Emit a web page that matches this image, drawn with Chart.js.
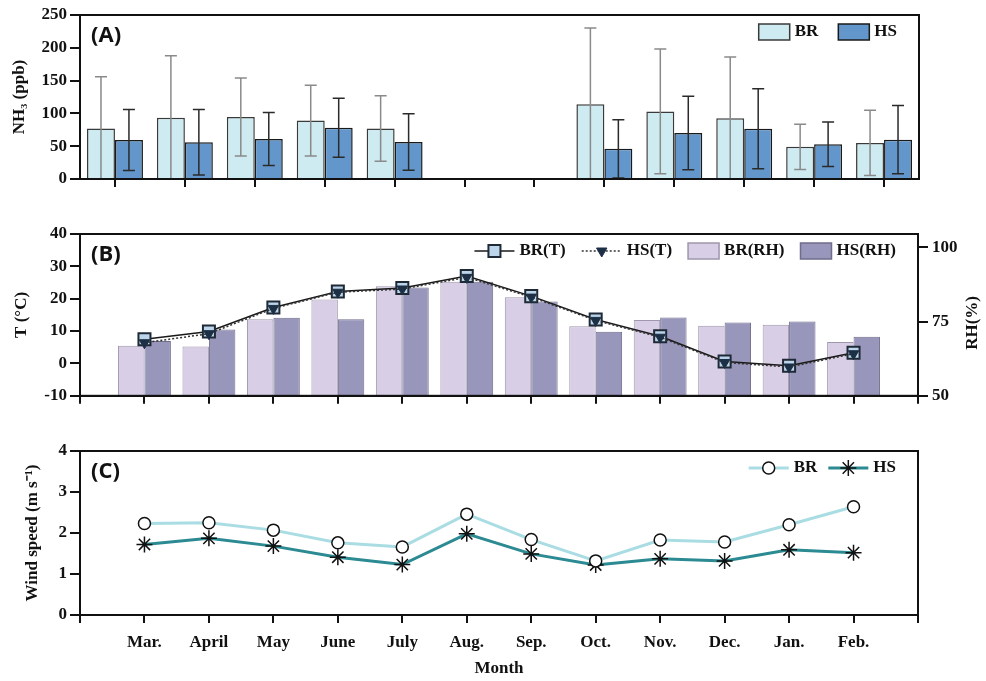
<!DOCTYPE html>
<html>
<head>
<meta charset="utf-8">
<title>NH3, T/RH and wind speed by month</title>
<script src="https://cdn.jsdelivr.net/npm/chart.js@4.4.1/dist/chart.umd.min.js"></script>
<style>
  body { margin: 0; background: #fff; }
  .panel { position: absolute; left: 0; width: 986px; }
</style>
</head>
<body>
<div class="panel" style="top:0;height:200px"><canvas id="chartA"></canvas></div>
<div class="panel" style="top:215px;height:195px"><canvas id="chartB"></canvas></div>
<div class="panel" style="top:430px;height:251px"><canvas id="chartC"></canvas></div>
<script>
// monthly values
const months = ['Mar.', 'April', 'May', 'June', 'July', 'Aug.', 'Sep.', 'Oct.', 'Nov.', 'Dec.', 'Jan.', 'Feb.'];

const nh3BR = [77, 93.5, 94.5, 89, 77, null, null, 114, 103, 92.5, 49, 55];
const nh3BRsd = [79, 94.5, 59.5, 54, 50, null, null, 116, 95, 93.5, 34.5, 49.7];
const nh3HS = [59.5, 56, 61, 78, 56.5, null, null, 46, 70, 76.7, 53, 60];
const nh3HSsd = [46.5, 50, 40.5, 45, 43, null, null, 44.5, 56, 61, 34, 52];

const tempBR = [7.5, 9.9, 17.3, 22.2, 23.3, 27.0, 20.8, 13.6, 8.4, 0.6, -0.7, 3.3];
const tempHS = [6.4, 9.2, 17.0, 22.0, 23.0, 26.6, 20.5, 13.3, 8.1, 0.3, -1.1, 3.0];
const rhBR = [66.9, 66.6, 75.8, 82.4, 86.9, 88.4, 83.2, 73.4, 75.5, 73.6, 73.9, 68.1];
const rhHS = [68.5, 72.3, 76.3, 75.8, 86.5, 88.4, 81.8, 71.6, 76.4, 74.7, 75.0, 69.9];

const windBR = [2.23, 2.25, 2.07, 1.76, 1.66, 2.46, 1.84, 1.32, 1.83, 1.78, 2.2, 2.64];
const windHS = [1.72, 1.87, 1.68, 1.41, 1.23, 1.98, 1.49, 1.22, 1.37, 1.32, 1.59, 1.52];

const nh3Ticks = [0, 50, 100, 150, 200, 250];
const tempTicks = [-10, 0, 10, 20, 30, 40];
const rhTicks = [50, 75, 100];
const windTicks = [0, 1, 2, 3, 4];

// panels B and C have an empty slot at each end of the axis
const padded = arr => [null, ...arr, null];
const wideLabels = ['', ...months, ''];

const serif = "'Liberation Serif', 'Times New Roman', serif";
Chart.defaults.font.family = serif;
Chart.defaults.font.weight = 'bold';
Chart.defaults.font.size = 17;
Chart.defaults.color = '#111';
Chart.defaults.animation = false;

// frame, panel letter and optional right-hand title
const decor = {
    id: 'decor',
    afterDraw(chart, args, opts) {
        const { ctx, chartArea } = chart;
        ctx.save();
        ctx.strokeStyle = '#111';
        ctx.lineWidth = 2;
        ctx.strokeRect(chartArea.left, chartArea.top, chartArea.right - chartArea.left, chartArea.bottom - chartArea.top);
        ctx.fillStyle = '#111';
        ctx.font = "bold 22px 'Open Sans', 'Noto Sans', sans-serif";
        ctx.textBaseline = 'middle';
        ctx.fillText(opts.label, chartArea.left + 11, chartArea.top + 21);
        if (opts.rightTitle) {
            ctx.font = 'bold 17px ' + serif;
            ctx.textAlign = 'center';
            ctx.translate(chartArea.right + 55, (chartArea.top + chartArea.bottom) / 2 + 8);
            ctx.rotate(-Math.PI / 2);
            ctx.fillText(opts.rightTitle, 0, 0);
        }
        ctx.restore();
    }
};

// legend drawn inside the plot, top right
const insideLegend = {
    id: 'insideLegend',
    afterDraw(chart, args, opts) {
        const { ctx, chartArea } = chart;
        const symW = { box: 31, line: 40 };
        ctx.save();
        ctx.font = 'bold 17px ' + serif;
        ctx.textBaseline = 'middle';
        let total = 0;
        opts.items.forEach((it, k) => {
            total += symW[it.kind] + 5 + ctx.measureText(it.text).width + (k ? opts.gap : 0);
        });
        let x = chartArea.right - 22 - total;
        const y = chartArea.top + 17;
        opts.items.forEach((it, k) => {
            if (k) x += opts.gap;
            const ds = chart.data.datasets[it.ds];
            if (it.kind === 'box') {
                ctx.fillStyle = ds.backgroundColor;
                ctx.strokeStyle = ds.borderColor;
                ctx.lineWidth = 1.5;
                ctx.fillRect(x, y - 8, 31, 16);
                ctx.strokeRect(x, y - 8, 31, 16);
            } else {
                ctx.strokeStyle = ds.borderColor;
                ctx.lineWidth = ds.borderWidth;
                ctx.setLineDash(ds.borderDash || []);
                ctx.beginPath();
                ctx.moveTo(x, y);
                ctx.lineTo(x + 40, y);
                ctx.stroke();
                ctx.setLineDash([]);
                ctx.fillStyle = ds.pointBackgroundColor;
                ctx.strokeStyle = ds.pointBorderColor;
                ctx.lineWidth = ds.pointBorderWidth;
                Chart.helpers.drawPoint(ctx, {
                    pointStyle: ds.pointStyle,
                    rotation: ds.pointRotation || 0,
                    radius: ds.pointRadius,
                    borderWidth: ds.pointBorderWidth
                }, x + 20, y);
            }
            x += symW[it.kind] + 5;
            ctx.fillStyle = '#111';
            ctx.fillText(it.text, x, y);
            x += ctx.measureText(it.text).width;
        });
        ctx.restore();
    }
};

// mean +/- sd whiskers, cut at zero
const errorBars = {
    id: 'errorBars',
    afterDatasetsDraw(chart) {
        const { ctx } = chart;
        const yScale = chart.scales.y;
        chart.data.datasets.forEach((ds, i) => {
            if (!ds.sd) return;
            const meta = chart.getDatasetMeta(i);
            ctx.save();
            ctx.strokeStyle = ds.errorColor;
            ctx.lineWidth = 1.5;
            meta.data.forEach((bar, j) => {
                const v = ds.data[j];
                if (v == null) return;
                const hi = v + ds.sd[j];
                const lo = Math.max(0, v - ds.sd[j]);
                const yHi = yScale.getPixelForValue(hi);
                const yLo = yScale.getPixelForValue(lo);
                ctx.beginPath();
                ctx.moveTo(bar.x, yHi);
                ctx.lineTo(bar.x, yLo);
                ctx.moveTo(bar.x - 6, yHi);
                ctx.lineTo(bar.x + 6, yHi);
                if (lo > 0) {
                    ctx.moveTo(bar.x - 6, yLo);
                    ctx.lineTo(bar.x + 6, yLo);
                }
                ctx.stroke();
            });
            ctx.restore();
        });
    }
};

function yAxis(ticks, title, titlePad) {
    return {
        min: ticks[0],
        max: ticks[ticks.length - 1],
        afterBuildTicks: scale => { scale.ticks = ticks.map(v => ({ value: v })); },
        afterFit: scale => { scale.width = 80; },
        border: { color: '#111', width: 2 },
        grid: { drawOnChartArea: false, color: '#111', lineWidth: 2, tickLength: 10 },
        ticks: { padding: 3, font: { size: 17 } },
        title: { display: true, text: title, font: { size: 17 }, padding: { top: titlePad, bottom: 0 } }
    };
}

function xAxis(height, extra) {
    return Object.assign({
        offset: false,
        afterFit: scale => { scale.height = height; },
        border: { color: '#111', width: 2 },
        grid: { drawOnChartArea: false, offset: false, color: '#111', lineWidth: 2, tickLength: 8 },
        ticks: { display: false, autoSkip: false, maxRotation: 0 }
    }, extra);
}

// (A) NH3
new Chart(document.getElementById('chartA'), {
    type: 'bar',
    data: {
        labels: months,
        datasets: [{
            label: 'BR',
            data: nh3BR,
            sd: nh3BRsd,
            errorColor: '#8a8a8a',
            backgroundColor: '#cdebf0',
            borderColor: '#3a3a3a',
            borderWidth: 1.5
        }, {
            label: 'HS',
            data: nh3HS,
            sd: nh3HSsd,
            errorColor: '#2a2a2a',
            backgroundColor: '#6397cb',
            borderColor: '#1a1a1a',
            borderWidth: 1.5
        }]
    },
    options: {
        responsive: true,
        maintainAspectRatio: false,
        layout: { padding: { top: 15, right: 67, left: 0, bottom: 0 } },
        datasets: { bar: { categoryPercentage: 0.8, barPercentage: 1.0 } },
        scales: {
            x: xAxis(21, { offset: true }),
            y: yAxis(nh3Ticks, 'NH\u2083 (ppb)', 9)
        },
        plugins: {
            legend: { display: false },
            tooltip: { enabled: false },
            decor: { label: '(A)' },
            insideLegend: { gap: 20, items: [{ text: 'BR', kind: 'box', ds: 0 }, { text: 'HS', kind: 'box', ds: 1 }] }
        }
    },
    plugins: [errorBars, decor, insideLegend]
});

// (B) temperature lines and RH bars
const rhAxis = {
    position: 'right',
    min: 50,
    max: 104.5,
    afterBuildTicks: scale => { scale.ticks = rhTicks.map(v => ({ value: v })); },
    afterFit: scale => { scale.width = 68; },
    border: { color: '#111', width: 2 },
    grid: { drawOnChartArea: false, color: '#111', lineWidth: 2, tickLength: 10 },
    ticks: { padding: 4, font: { size: 17 } }
};

new Chart(document.getElementById('chartB'), {
    type: 'bar',
    data: {
        labels: wideLabels,
        datasets: [{
            type: 'line',
            label: 'BR(T)',
            data: padded(tempBR),
            yAxisID: 'y',
            order: 0,
            borderColor: '#1a1a1a',
            borderWidth: 1.5,
            pointStyle: 'rect',
            pointRadius: 8.5,
            pointBackgroundColor: '#bcd5ea',
            pointBorderColor: '#1f2a36',
            pointBorderWidth: 2
        }, {
            type: 'line',
            label: 'HS(T)',
            data: padded(tempHS),
            yAxisID: 'y',
            order: -1,
            borderColor: '#333',
            borderWidth: 1.5,
            borderDash: [2, 2],
            pointStyle: 'triangle',
            pointRotation: 180,
            pointRadius: 6,
            pointBackgroundColor: '#1c2f45',
            pointBorderColor: '#1c2f45',
            pointBorderWidth: 1
        }, {
            label: 'BR(RH)',
            data: padded(rhBR),
            yAxisID: 'y2',
            order: 1,
            backgroundColor: '#d8cee6',
            borderColor: '#9e97ad',
            borderWidth: 1
        }, {
            label: 'HS(RH)',
            data: padded(rhHS),
            yAxisID: 'y2',
            order: 1,
            backgroundColor: '#9896bb',
            borderColor: '#6f6c8c',
            borderWidth: 1
        }]
    },
    options: {
        responsive: true,
        maintainAspectRatio: false,
        layout: { padding: { top: 19, right: 0, left: 0, bottom: 0 } },
        datasets: { bar: { categoryPercentage: 0.82, barPercentage: 1.0 } },
        scales: {
            x: xAxis(12),
            y: yAxis(tempTicks, 'T (\u00B0C)', 11),
            y2: rhAxis
        },
        plugins: {
            legend: { display: false },
            tooltip: { enabled: false },
            decor: { label: '(B)', rightTitle: 'RH(%)' },
            insideLegend: {
                gap: 16,
                items: [
                    { text: 'BR(T)', kind: 'line', ds: 0 },
                    { text: 'HS(T)', kind: 'line', ds: 1 },
                    { text: 'BR(RH)', kind: 'box', ds: 2 },
                    { text: 'HS(RH)', kind: 'box', ds: 3 }
                ]
            }
        }
    },
    plugins: [decor, insideLegend]
});

// (C) wind speed
new Chart(document.getElementById('chartC'), {
    type: 'line',
    data: {
        labels: wideLabels,
        datasets: [{
            label: 'BR',
            data: padded(windBR),
            borderColor: '#a9dde3',
            borderWidth: 3,
            pointStyle: 'circle',
            pointRadius: 6,
            pointBackgroundColor: '#fff',
            pointBorderColor: '#111',
            pointBorderWidth: 1.5
        }, {
            label: 'HS',
            data: padded(windHS),
            borderColor: '#2b8a92',
            borderWidth: 3,
            pointStyle: 'star',
            pointRadius: 8,
            pointBackgroundColor: '#111',
            pointBorderColor: '#111',
            pointBorderWidth: 1.5
        }]
    },
    options: {
        responsive: true,
        maintainAspectRatio: false,
        layout: { padding: { top: 21, right: 68, left: 0, bottom: 0 } },
        scales: {
            x: xAxis(66, {
                ticks: { display: true, autoSkip: false, maxRotation: 0, padding: 9, font: { size: 17 } },
                title: { display: true, text: 'Month', font: { size: 17 }, padding: { top: 4, bottom: 2 } }
            }),
            y: yAxis(windTicks, 'Wind speed (m s\u207B\u00B9)', 22)
        },
        plugins: {
            legend: { display: false },
            tooltip: { enabled: false },
            decor: { label: '(C)' },
            insideLegend: { gap: 11, items: [{ text: 'BR', kind: 'line', ds: 0 }, { text: 'HS', kind: 'line', ds: 1 }] }
        }
    },
    plugins: [decor, insideLegend]
});
</script>
</body>
</html>
